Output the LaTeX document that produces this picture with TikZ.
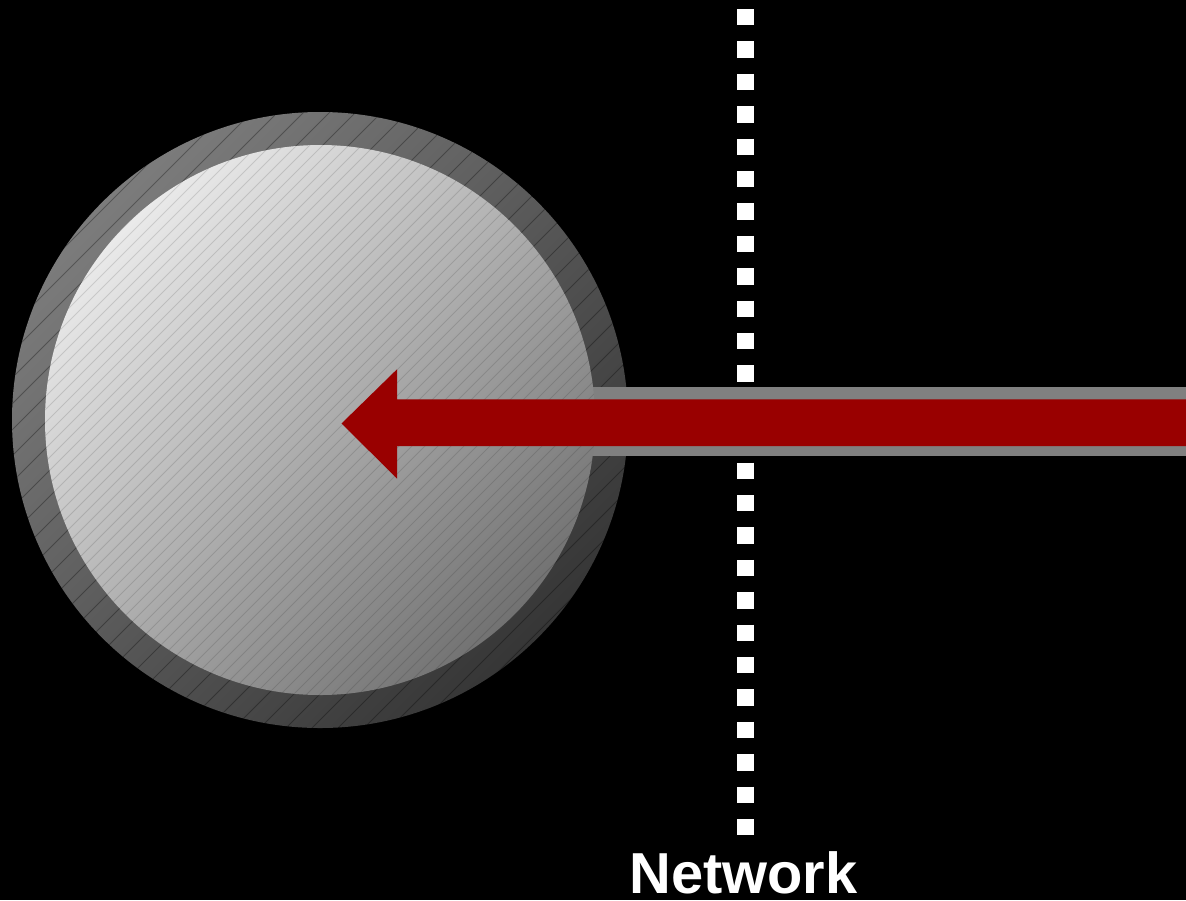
\documentclass[tikz,border=0pt]{standalone}
\usepackage{fontspec}
\setmainfont{Liberation Sans}
\begin{document}
\begin{tikzpicture}[x=0.5pt,y=-0.5pt,
  ringfill/.style={top color=ringlight,bottom color=ringdark,shading angle=45},
  discfill/.style={top color=disclight,bottom color=discdark,shading angle=45},
  hatchline/.style={line width=0.5pt,draw=black,draw opacity=#1},
  dotline/.style={draw=white,line width=8.5pt,dash pattern=on 8.2pt off 8.0pt},
  barfill/.style={fill=bargray,draw=none},
  arrowfill/.style={fill=arrowred,draw=none},
  label/.style={text=white,font=\bfseries\fontsize{28.9}{32}\selectfont,inner sep=0pt,anchor=base}]
\definecolor{ringlight}{HTML}{7C7C7C}
\definecolor{ringdark}{HTML}{363636}
\definecolor{disclight}{HTML}{EAEAEA}
\definecolor{discdark}{HTML}{727272}
\definecolor{bargray}{HTML}{808080}
\definecolor{arrowred}{HTML}{990000}
\fill[black] (0,0) rectangle (1186,900);
\useasboundingbox (0,0) rectangle (1186,900);
% dotted network boundary
\coordinate (dtop) at (745.5,9);
\coordinate (dbot) at (745.5,836);
\draw[dotline] (dtop) -- (dbot);
% outer ring
\coordinate (c) at (320,420);
\shade[ringfill] (c) circle[radius=308];
\begin{scope}
\clip (c) circle[radius=308];
\foreach \k in {0,...,60} {
  \draw[hatchline=0.3] (26*\k,0) -- (26*\k-900,900);
}
\end{scope}
% gray bar
\fill[barfill] (560,386.5) rectangle (1186,455.7);
% inner disc
\shade[discfill] (c) circle[radius=275];
\begin{scope}
\clip (c) circle[radius=275];
\foreach \k in {0,...,120} {
  \draw[hatchline=0.12] (13*\k,0) -- (13*\k-900,900);
}
\end{scope}
% red arrow
\fill[arrowfill] (1186,399.3) -- (397,399.3) -- (397,369.3) -- (341.5,423.5)
  -- (397,478.5) -- (397,446) -- (1186,446) -- cycle;
\node[label] (net) at (743.5,893) {Network};
\end{tikzpicture}
\end{document}
